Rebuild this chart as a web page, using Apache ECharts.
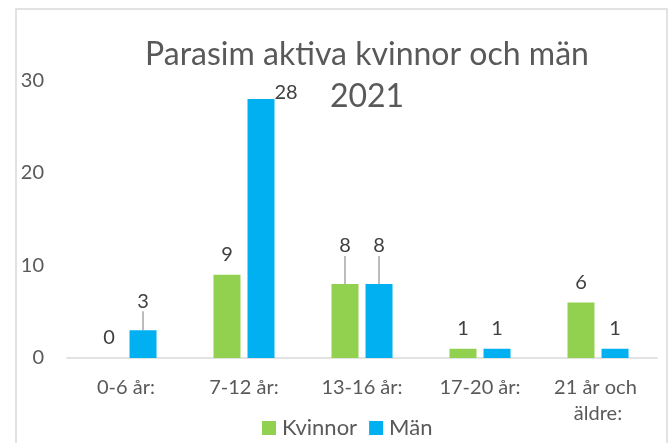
<!DOCTYPE html>
<html>
<head>
<meta charset="utf-8">
<script src="https://cdn.jsdelivr.net/npm/echarts@6/dist/echarts.min.js"></script>
<style>html,body{margin:0;padding:0;background:#fff}#c{width:670px;height:443px}</style>
</head>
<body>
<div id="c"></div>
<script>
const categories = ['0-6 år:', '7-12 år:', '13-16 år:', '17-20 år:', '21 år och äldre:'];
const seriesNames = ['Kvinnor', 'Män'];
const kvinnor = [0, 9, 8, 1, 6];
const man = [3, 28, 8, 1, 1];
const yTicks = [0, 10, 20, 30];
const titleText = 'Parasim aktiva kvinnor och män\n2021';

const FONT = 'Lato';
const GREEN = '#92D050';
const BLUE = '#00B0F0';
const TXT = '#595959';

// label moves (pixels) for labels that Excel dragged away, with leader lines
const moved = { '1-0': -9, '0-2': -18, '1-2': -18 };

function buildData(values, sIdx) {
  return values.map((v, i) => {
    const item = { value: v };
    if (moved[sIdx + '-' + i] !== undefined) {
      item.labelLine = { show: true, lineStyle: { color: '#a6a6a6', width: 1.5 } };
    }
    if (sIdx === 1 && v === Math.max.apply(null, values)) {
      item.label = { position: ['100%', -16], align: 'left', verticalAlign: 'top' };
    }
    return item;
  });
}

const chart = echarts.init(document.getElementById('c'), null, { renderer: 'canvas' });
const labelCfg = { show: true, position: 'top', distance: 10, color: '#404040', fontFamily: FONT, fontSize: 20 };

chart.setOption({
  animation: false,
  textStyle: { fontFamily: FONT },
  graphic: [{
    type: 'rect', shape: { x: 16, y: 9, width: 651, height: 460 },
    style: { fill: 'none', stroke: '#d9d9d9', lineWidth: 1.5 }, silent: true
  }],
  title: {
    text: titleText, left: 362, top: 29, textAlign: 'center',
    textStyle: { fontFamily: FONT, fontSize: 32, fontWeight: 'normal', color: TXT, lineHeight: 42 }
  },
  legend: {
    data: seriesNames, left: 257, top: 412, itemWidth: 14, itemHeight: 14, itemGap: 12,
    icon: 'rect', textStyle: { fontFamily: FONT, fontSize: 22, color: TXT, padding: [0, 0, 0, 1] }
  },
  grid: { left: 67, right: 13, top: 80.5, bottom: 85, containLabel: false },
  xAxis: {
    type: 'category', data: categories,
    axisLine: { lineStyle: { color: '#d9d9d9', width: 1.5 } },
    axisTick: { show: false },
    axisLabel: { color: TXT, fontFamily: FONT, fontSize: 20, margin: 17, lineHeight: 26, width: 112, overflow: 'break', interval: 0 }
  },
  yAxis: {
    type: 'value', min: yTicks[0], max: yTicks[yTicks.length - 1], interval: yTicks[1] - yTicks[0],
    axisLine: { show: false }, axisTick: { show: false }, splitLine: { show: false },
    axisLabel: { color: TXT, fontFamily: FONT, fontSize: 20, margin: 23 }
  },
  series: [
    { name: seriesNames[0], type: 'bar', data: buildData(kvinnor, 0), barWidth: 27, barGap: '26%',
      itemStyle: { color: GREEN }, label: labelCfg,
      labelLayout: function (p) { const d = moved['0-' + p.dataIndex]; return d !== undefined ? { dy: d } : {}; } },
    { name: seriesNames[1], type: 'bar', data: buildData(man, 1), barWidth: 27, barGap: '26%',
      itemStyle: { color: BLUE }, label: labelCfg,
      labelLayout: function (p) { const d = moved['1-' + p.dataIndex]; return d !== undefined ? { dy: d } : {}; } }
  ]
});
</script>
</body>
</html>
